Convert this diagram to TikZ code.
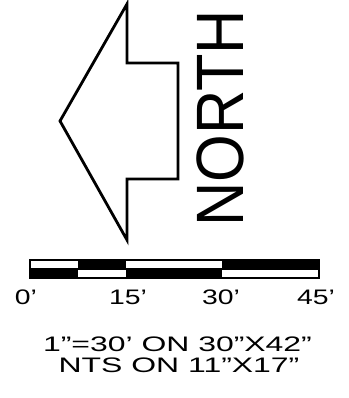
\documentclass[tikz,border=0pt]{standalone}
\usepackage{fontspec}
\setmainfont{Liberation Sans}
\usetikzlibrary{positioning}
\tikzstyle{arrowline}=[line width=2.8pt,line join=miter]
\tikzstyle{barline}=[line width=1.6pt]
\tikzstyle{bigtxt}=[font=\fontsize{67}{67}\selectfont,inner sep=0pt,rotate=90]
\tikzstyle{ticktxt}=[font=\fontsize{21}{21}\selectfont,inner sep=0pt]
\tikzstyle{notetxt}=[font=\fontsize{21}{21}\selectfont,inner sep=0pt]

\begin{document}
\begin{tikzpicture}[x=1pt,y=1pt]
\useasboundingbox (0,0) rectangle (348,398);
% north arrow
\draw[arrowline] (60,277) -- (127,394) -- (127,335) -- (178,335) -- (178,219)
  -- (127,219) -- (127,158) -- cycle;
\node[bigtxt] (north) at (220,279.5) {\scalebox{0.915}[1]{NORTH}};
% scale bar
\coordinate (b0) at (30,120);
\coordinate (b1) at (126,120);
\coordinate (b2) at (222,120);
\coordinate (b3) at (319,120);
\fill (78,129) rectangle (126,138);
\fill (222,129) rectangle (319,138);
\fill (30,120) rectangle (78,129);
\fill (126,120) rectangle (222,129);
\draw[barline] (30,120) rectangle (319,138);
\draw[barline] (30,129) -- (319,129);
\node[ticktxt, below=12pt of b0, xshift=-4pt] (t0) {\scalebox{1.35}[1]{0’}};
\node[ticktxt, below=12pt of b1, xshift=2pt] (t1) {\scalebox{1.35}[1]{15’}};
\node[ticktxt, below=12pt of b2, xshift=-1pt] (t2) {\scalebox{1.35}[1]{30’}};
\node[ticktxt, below=12pt of b3, xshift=-3pt] (t3) {\scalebox{1.35}[1]{45’}};
% notes
\node[notetxt] (note1) at (177.5,53.5) {\scalebox{1.52}[1]{1”=30’ ON 30”X42”}};
\node[notetxt] (note2) at (179,32.5) {\scalebox{1.52}[1]{NTS ON 11”X17”}};
\end{tikzpicture}
\end{document}
